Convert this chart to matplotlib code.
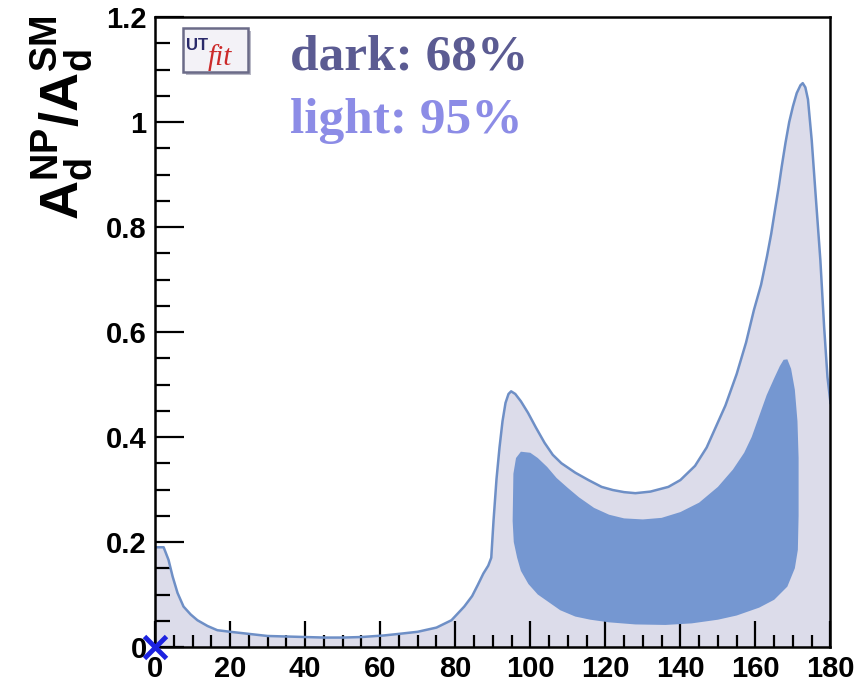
import matplotlib
matplotlib.use("Agg")
import matplotlib.pyplot as plt
from matplotlib.patches import Rectangle, Polygon

plt.rcParams["mathtext.fontset"] = "custom"
plt.rcParams["mathtext.bf"] = "Liberation Sans:bold"
plt.rcParams["mathtext.rm"] = "Liberation Sans:bold"
plt.rcParams["mathtext.it"] = "Liberation Sans:bold"

# 95% probability region: upper boundary (lower boundary is zero)
phi_95 = [0, 0.7, 2.3, 3.6, 4.7, 6, 7.6, 9.5, 11.3, 14, 16.6, 20, 25, 30, 35, 40,
          45, 50, 55, 61, 65, 70, 75, 79, 82.4, 84.5, 86, 87.5, 88.8, 89.6, 90.2,
          91, 91.8, 92.6, 93.4, 94.2, 94.9, 96, 97.5, 99.4, 101.5, 103.8, 106,
          108.3, 112, 115.5, 119, 122, 125, 128, 132, 136.8, 140, 143.9, 147,
          149.5, 152, 155, 157.5, 159.6, 161.5, 163.1, 164.2, 165.2, 166.2, 167,
          168, 169, 170, 171, 172, 172.6, 173.3, 174, 175, 176, 177.3, 178.3,
          179.2, 180]
amp_95 = [0.19, 0.19, 0.19, 0.166, 0.134, 0.103, 0.077, 0.062, 0.051, 0.04, 0.032,
          0.029, 0.025, 0.021, 0.02, 0.019, 0.018, 0.018, 0.019, 0.022, 0.025,
          0.029, 0.037, 0.051, 0.077, 0.097, 0.118, 0.14, 0.155, 0.17, 0.24, 0.32,
          0.38, 0.43, 0.465, 0.482, 0.487, 0.482, 0.468, 0.446, 0.418, 0.389,
          0.366, 0.35, 0.332, 0.318, 0.305, 0.299, 0.295, 0.293, 0.296, 0.305,
          0.318, 0.345, 0.38, 0.42, 0.46, 0.52, 0.58, 0.642, 0.69, 0.745, 0.787,
          0.832, 0.876, 0.915, 0.96, 1.0, 1.03, 1.055, 1.07, 1.074, 1.066,
          1.043, 0.965, 0.865, 0.737, 0.61, 0.514, 0.465]

# 68% probability region: closed contour
phi_68 = [95.3, 95.5, 96.2, 97.5, 100, 102, 104.5, 107, 110, 113, 117, 121, 125,
          130, 135, 140, 145, 150, 154, 157, 159, 161, 163, 165, 166.5, 167.5,
          168.5, 169.5, 170.5, 171.2, 171.5, 171.5, 171.3, 170.5, 168.5, 165, 161,
          155, 150, 143, 136, 128, 121, 116, 112, 108, 105, 102, 99.5, 97.5, 96.5,
          95.6]
amp_68 = [0.24, 0.33, 0.36, 0.372, 0.37, 0.36, 0.343, 0.322, 0.303, 0.285, 0.265,
          0.252, 0.245, 0.243, 0.246, 0.257, 0.275, 0.305, 0.338, 0.37, 0.40, 0.44,
          0.48, 0.512, 0.535, 0.547, 0.548, 0.53, 0.49, 0.43, 0.36, 0.25, 0.185,
          0.15, 0.115, 0.09, 0.075, 0.06, 0.052, 0.045, 0.042, 0.043, 0.047, 0.052,
          0.058, 0.07, 0.085, 0.1, 0.12, 0.145, 0.17, 0.2]

sm_point = (0.0, 0.0)

x_ticks = [0, 20, 40, 60, 80, 100, 120, 140, 160, 180]
y_ticks = [0, 0.2, 0.4, 0.6, 0.8, 1, 1.2]
y_ticklabels = ["0", "0.2", "0.4", "0.6", "0.8", "1", "1.2"]

light_fill = "#dcdcea"
edge_col = "#6e8fc6"
dark_fill = "#7597d1"

fig = plt.figure(figsize=(8.66, 6.83), dpi=100)
ax = fig.add_axes([0.179, 0.0527, 0.780, 0.9224])

ax.fill_between(phi_95, amp_95, 0, color=light_fill, lw=0, zorder=1)
ax.plot(phi_95, amp_95, color=edge_col, lw=1.8, zorder=2, solid_joinstyle="round")
ax.add_patch(Polygon(list(zip(phi_68, amp_68)), closed=True, facecolor=dark_fill,
                     edgecolor="none", zorder=3))

ax.plot([sm_point[0]], [sm_point[1]], marker="x", color="#1c22e0", ms=16, mew=3.5,
        clip_on=False, zorder=10)

ax.set_xlim(0, 180)
ax.set_ylim(0, 1.2)
ax.set_xticks(x_ticks)
ax.set_xticklabels([str(v) for v in x_ticks])
ax.set_xticks(range(0, 181, 5), minor=True)
ax.set_yticks(y_ticks)
ax.set_yticklabels(y_ticklabels)
ax.set_yticks([i * 0.05 for i in range(25)], minor=True)

for sp in ["top", "right", "left", "bottom"]:
    ax.spines[sp].set_linewidth(1.8)
ax.tick_params(which="both", direction="in", top=False, right=False, width=1.6)
ax.tick_params(which="major", axis="x", length=19, pad=6)
ax.tick_params(which="minor", axis="x", length=9)
ax.tick_params(which="major", axis="y", length=21, pad=6)
ax.tick_params(which="minor", axis="y", length=11)
for lab in ax.get_xticklabels() + ax.get_yticklabels():
    lab.set_fontfamily("Liberation Sans")
    lab.set_fontweight("bold")
    lab.set_fontsize(21)

fig.text(0.072, 0.978, r"$\mathbf{A_d^{NP}/A_d^{SM}}$", rotation=90, ha="center",
         va="top", fontsize=39)

# logo with drop shadow
fig.patches.append(Rectangle((186 / 866, 1 - 75 / 683), 65 / 866, 44 / 683,
                             transform=fig.transFigure, facecolor="#b9b9c6",
                             edgecolor="none", zorder=4))
fig.patches.append(Rectangle((183 / 866, 1 - 72 / 683), 65 / 866, 44 / 683,
                             transform=fig.transFigure, facecolor="#f3f2f7",
                             edgecolor="#6b6b88", lw=1.8, zorder=5))
fig.text(186 / 866, 1 - 50 / 683, "UT", color="#2a2a6a", fontsize=12,
         fontweight="bold", family="Liberation Sans", ha="left", va="baseline", zorder=6)
fig.text(208 / 866, 1 - 65 / 683, "fit", color="#cc2a2a", fontsize=21,
         style="italic", family="Liberation Serif", ha="left", va="baseline", zorder=6)

fig.text(290 / 866, 1 - 70 / 683, "dark: 68%", color="#5b5b92", fontsize=37,
         fontweight="bold", family="Liberation Serif", ha="left", va="baseline")
fig.text(290 / 866, 1 - 133 / 683, "light: 95%", color="#8c8ce6", fontsize=37,
         fontweight="bold", family="Liberation Serif", ha="left", va="baseline")

fig.savefig("out.png", dpi=100)
